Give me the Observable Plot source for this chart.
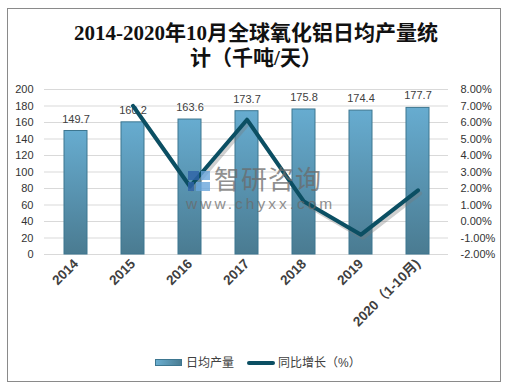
<!DOCTYPE html>
<html><head><meta charset="utf-8">
<script src="https://cdn.jsdelivr.net/npm/d3@7"></script>
<script src="https://cdn.jsdelivr.net/npm/@observablehq/plot@0.6"></script>
<style>
body{margin:0;background:#fff;width:512px;height:390px;position:relative;overflow:hidden;font-family:"Liberation Sans","Noto Sans CJK SC",sans-serif;}
#frame{position:absolute;left:7px;top:8px;width:494px;height:374px;border:1px solid #8a8a8a;box-sizing:border-box;}
#title{position:absolute;left:0;top:21px;width:512px;text-align:center;font-family:"Liberation Serif","Noto Sans CJK SC",serif;font-weight:bold;font-size:21px;line-height:25px;color:#111;}
#chart{position:absolute;left:0;top:70px;}
#legend{position:absolute;top:355px;left:0;width:512px;height:16px;font-size:12px;color:#404040;}
.lg{position:absolute;top:0;line-height:16px;white-space:nowrap;}
#wm1{position:absolute;left:214px;top:163px;font-size:26px;color:#6b6b6b;opacity:0.75;letter-spacing:1px;font-family:"Noto Sans CJK SC",sans-serif;line-height:30px;}
#wm2{position:absolute;left:186px;top:196px;font-size:15.5px;color:#6b6b6b;opacity:0.75;letter-spacing:3px;line-height:16px;}
#logo{position:absolute;left:188px;top:169px;width:23px;height:23px;opacity:0.8;}
</style></head>
<body>
<div id="frame"></div>
<div id="title">2014-2020年10月全球氧化铝日均产量统<br>计（千吨/天）</div>
<div id="chart"></div>
<div id="logo"><svg width="23" height="23"><rect x="0" y="2" width="11" height="9" fill="#2f63a8"/><rect x="0" y="13" width="6" height="9" fill="#2f63a8"/><rect x="13" y="2" width="9" height="9" fill="#6aa6dc"/><rect x="8" y="13" width="14" height="9" fill="#6aa6dc"/></svg></div>
<div id="wm1">智研咨询</div>
<div id="wm2">www.chyxx.com</div>
<div id="legend">
  <div class="lg" style="left:155px;top:4px;width:27px;height:7px;background:linear-gradient(90deg,#6aaed0,#4a7d93);border:1px solid #3d7690;box-sizing:border-box;"></div>
  <div class="lg" style="left:186px;">日均产量</div>
  <div class="lg" style="left:247px;top:6px;width:28px;height:4px;background:#0b4f63;border-radius:2px;"></div>
  <div class="lg" style="left:278px;">同比增长（%）</div>
</div>
<script>
const years = ["2014","2015","2016","2017","2018","2019","2020（1-10月)"];
const output = [149.7,160.2,163.6,173.7,175.8,174.4,177.7];
const growth = [null,7.01,2.12,6.17,1.21,-0.80,1.89];
const leftTicks = [0,20,40,60,80,100,120,140,160,180,200];
const rightTickLabels = ["-2.00%","-1.00%","0.00%","1.00%","2.00%","3.00%","4.00%","5.00%","6.00%","7.00%","8.00%"];
const rightMin = -2, rightMax = 8;

const barData = years.map((y,i)=>({year:y, v:output[i]}));
// map growth onto left scale domain [0,200]
const toLeft = g => (g - rightMin) / (rightMax - rightMin) * 200;
const lineData = years.map((y,i)=>({year:y, g:growth[i]})).filter(d=>d.g!==null).map(d=>({year:d.year, y:toLeft(d.g)}));

const chart = Plot.plot({
  width:512, height:320,
  marginTop:19, marginBottom:136, marginLeft:44, marginRight:64,
  style:{fontFamily:'"Liberation Sans","Noto Sans CJK SC",sans-serif', fontSize:"11px", color:"#404040", background:"transparent"},
  x:{domain:years, paddingInner:0.6, paddingOuter:0.3, label:null},
  y:{domain:[0,200], label:null},
  marks:[
    Plot.gridY(leftTicks,{stroke:"#d9d9d9", strokeOpacity:1, strokeWidth:1}),
    Plot.axisY({ticks:leftTicks, tickSize:0, tickPadding:11, label:null, fill:"#333", fontSize:11}),
    Plot.axisY({anchor:"right", ticks:leftTicks, tickSize:0, tickPadding:12, label:null, fill:"#333", fontSize:11,
      tickFormat:d=>rightTickLabels[leftTicks.indexOf(d)]}),
    Plot.barY(barData,{x:"year", y:"v", fill:"url(#barGrad)", stroke:"#3d7690", strokeWidth:1}),
    Plot.text(barData,{x:"year", y:"v", text:d=>d.v.toFixed(1), dy:-12, fill:"#404040", fontSize:11}),
    Plot.line(lineData,{x:"year", y:"y", stroke:"#777", strokeOpacity:0.35, strokeWidth:4, dx:2, dy:3}),
    Plot.line(lineData,{x:"year", y:"y", stroke:"#0b4f63", strokeWidth:4}),
    Plot.axisX({tickSize:0, tickPadding:7, tickRotate:-45, label:null, fontWeight:"bold", fill:"#404040", fontSize:13.5})
  ]
});
const svg = d3.select(chart);
const defs = svg.insert("defs",":first-child");
const g = defs.append("linearGradient").attr("id","barGrad").attr("x1",0).attr("y1",0).attr("x2",0).attr("y2",1);
g.append("stop").attr("offset","0%").attr("stop-color","#67acd0");
g.append("stop").attr("offset","100%").attr("stop-color","#4a7b91");
document.getElementById("chart").appendChild(chart);
</script>
</body></html>
